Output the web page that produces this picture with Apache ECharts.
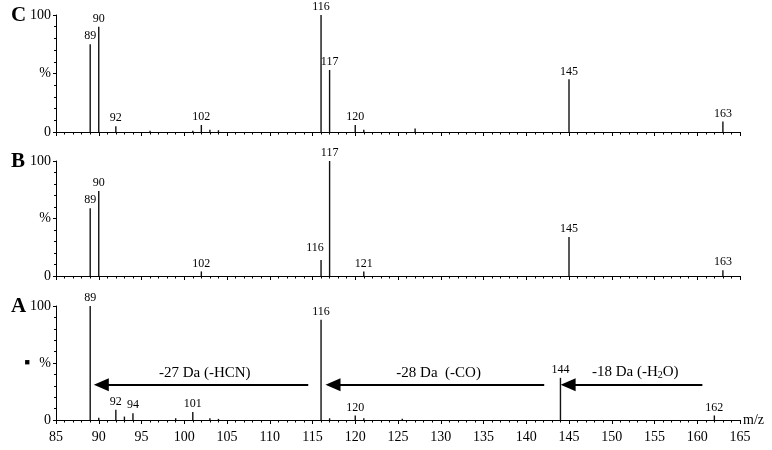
<!DOCTYPE html>
<html>
<head>
<meta charset="utf-8">
<script src="https://cdn.jsdelivr.net/npm/echarts@6/dist/echarts.min.js"></script>
<style>
  html, body { margin: 0; padding: 0; background: #fff; }
  #chart { width: 772px; height: 450px; }
</style>
</head>
<body>
<div id="chart"></div>
<script>
// panel C
const cMz = [89, 90, 92, 96, 101, 102, 103, 104, 116, 117, 120, 121, 127, 145, 163];
const cInt = [75, 90, 5, 1, 1, 6, 2, 1.5, 100, 53, 6, 2, 3, 45, 9];
const cLabeled = [89, 90, 92, 102, 116, 117, 120, 145, 163];

// panel B
const bMz = [89, 90, 102, 116, 117, 121, 145, 163];
const bInt = [59, 74, 4, 14, 100, 4, 34, 5];
const bLabeled = [89, 90, 102, 116, 117, 121, 145, 163];

// panel A
const aMz = [89, 90, 92, 93, 94, 99, 101, 103, 104, 116, 117, 120, 121, 125.5, 144, 162];
const aInt = [100, 2, 9, 3, 6, 1.5, 7, 1.5, 1, 88, 1.5, 4, 1.5, 1, 37, 4];
const aLabeled = [89, 92, 94, 101, 116, 120, 144, 162];

// neutral losses drawn in panel A
const lossFrom = [114.5, 142.1, 160.6];
const lossTo = [90.3, 117.4, 144.9];
const lossLevel = 31;
const lossText = ['-27 Da (-HCN)', '-28 Da  (-CO)', '-18 Da (-H{sub|2}O)'];

const panelNames = ['C', 'B', 'A'];
const serif = 'Liberation Serif';

const chart = echarts.init(document.getElementById('chart'));

const grids = [
  { left: 56, right: 32, top: 15, bottom: 318 },
  { left: 56, right: 32, top: 161, bottom: 174 },
  { left: 56, right: 32, top: 306, bottom: 30 }
];

const xAxes = grids.map((g, i) => ({
  type: 'value',
  gridIndex: i,
  min: 85,
  max: 165,
  interval: 5,
  name: i === 2 ? 'm/z' : '',
  nameLocation: 'end',
  nameGap: 3,
  nameTextStyle: { fontFamily: serif, fontSize: 14, color: '#000', padding: [8, 0, 0, 0] },
  splitLine: { show: false },
  axisLine: { lineStyle: { color: '#000', width: 1 } },
  axisTick: { length: 4, lineStyle: { color: '#000' } },
  minorTick: { show: true, splitNumber: 5, length: 2.5, lineStyle: { color: '#000' } },
  axisLabel: {
    show: i === 2,
    fontFamily: serif,
    fontSize: 14,
    color: '#000',
    margin: 10
  }
}));

const yAxes = grids.map((g, i) => ({
  type: 'value',
  gridIndex: i,
  min: 0,
  max: 100,
  interval: 50,
  splitLine: { show: false },
  axisLine: { show: true, lineStyle: { color: '#000', width: 1 } },
  axisTick: { show: true, length: 3, lineStyle: { color: '#000' } },
  minorTick: { show: true, splitNumber: 5, length: 2, lineStyle: { color: '#000' } },
  axisLabel: {
    fontFamily: serif,
    fontSize: 14,
    color: '#000',
    margin: 5,
    formatter: v => v === 50 ? (i === 2 ? '{sq|■} %' : '%') : String(v),
    rich: { sq: { fontSize: 9, color: '#000', padding: [0, 6, 0, 0] } }
  }
}));

function peakSeries(idx, mz, ints, labeled, offsets) {
  return {
    type: 'bar',
    xAxisIndex: idx,
    yAxisIndex: idx,
    barWidth: 1.4,
    itemStyle: { color: '#111' },
    data: mz.map((m, k) => {
      const item = { value: [m, ints[k]] };
      if (labeled.includes(m)) {
        item.label = {
          show: true,
          position: 'top',
          distance: 2,
          formatter: String(m),
          fontFamily: serif,
          fontSize: 12,
          color: '#000',
          offset: (offsets && offsets[m]) || [0, 0]
        };
      }
      return item;
    }),
    silent: true
  };
}

const series = [
  peakSeries(0, cMz, cInt, cLabeled),
  peakSeries(1, bMz, bInt, bLabeled, { 116: [-6, -4] }),
  peakSeries(2, aMz, aInt, aLabeled)
];

series[2].markLine = {
  silent: true,
  animation: false,
  symbol: ['triangle', 'none'],
  symbolSize: [13, 15],
  lineStyle: { color: '#000', width: 2, type: 'solid' },
  label: {
    show: true,
    position: 'insideMiddleTop',
    distance: 4,
    fontFamily: serif,
    fontSize: 15,
    color: '#000',
    rich: { sub: { fontSize: 10, padding: [7, 0, 0, 0] } }
  },
  data: lossFrom.map((f, k) => [
    { coord: [lossTo[k], lossLevel], label: { formatter: lossText[k] } },
    { coord: [f, lossLevel] }
  ])
};

chart.setOption({
  animation: false,
  backgroundColor: '#fff',
  title: panelNames.map((n, i) => ({
    text: n,
    left: 6,
    top: grids[i].top - 15,
    textStyle: { fontFamily: serif, fontSize: 21, fontWeight: 'bold', color: '#000' }
  })),
  grid: grids,
  xAxis: xAxes,
  yAxis: yAxes,
  series: series
});
</script>
</body>
</html>
